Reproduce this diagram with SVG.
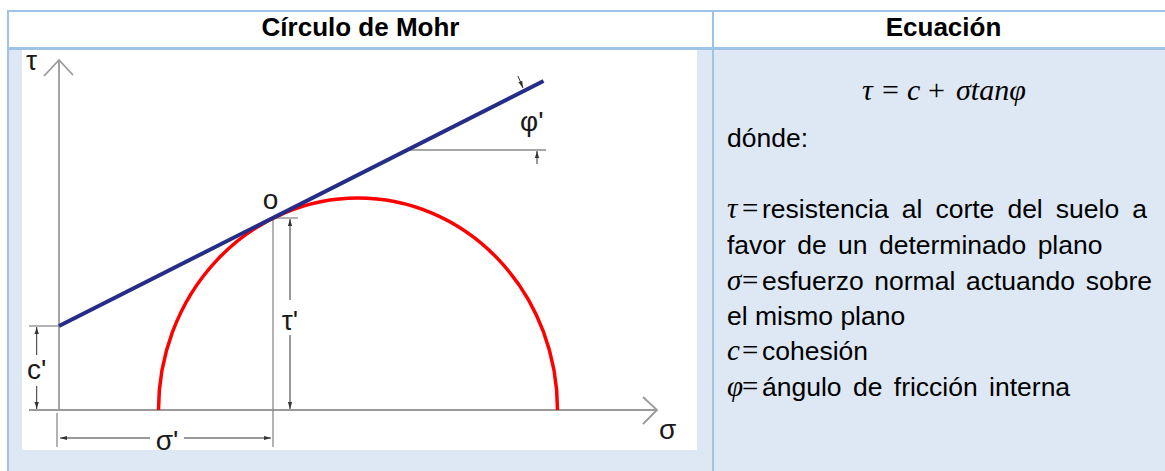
<svg xmlns="http://www.w3.org/2000/svg" width="1165" height="471" viewBox="0 0 1165 471">
<defs>
<style>
.hdr{font-family:"Liberation Sans",Arial,sans-serif;font-weight:bold;font-size:26px;fill:#000;text-anchor:middle}
.body{font-family:"Liberation Sans",Arial,sans-serif;font-size:26.5px;fill:#000}
.math{font-family:"Liberation Serif","Times New Roman",serif;font-size:29px;fill:#000}
.eq{font-size:30px}
.mi{font-style:italic}
.lbl{font-family:"Liberation Sans",Arial,sans-serif;font-size:28px;fill:#1a1a1a}
.border{stroke:#9dc3e6;fill:none}
.axis{stroke:#9a9a9a;stroke-width:1.8;fill:none}
.ext{stroke:#8a8a8a;stroke-width:1.3;fill:none}
.dim{stroke:#333;stroke-width:1;fill:none;marker-end:url(#ah)}
</style>
<marker id="ah" viewBox="0 0 10 10" refX="10" refY="5" markerWidth="7" markerHeight="7" markerUnits="userSpaceOnUse" orient="auto"><path d="M0,2 L10,5 L0,8 z" fill="#333"/></marker>
<clipPath id="imgclip"><rect x="22" y="50" width="675" height="400"/></clipPath>
</defs>

<g id="table">
<rect x="0" y="0" width="1165" height="471" fill="#ffffff"/>
<rect x="8" y="49" width="1157" height="422" fill="#dee8f4"/>
<line class="border" x1="8" y1="11" x2="1165" y2="11" stroke-width="2"/>
<line class="border" x1="8" y1="48.5" x2="1165" y2="48.5" stroke-width="3"/>
<line class="border" x1="8" y1="10" x2="8" y2="471" stroke-width="2"/>
<line class="border" x1="713" y1="10" x2="713" y2="471" stroke-width="2"/>
</g>

<g id="headers">
<text class="hdr" x="360.5" y="36">Círculo de Mohr</text>
<text class="hdr" x="943.5" y="36">Ecuación</text>
</g>

<g id="mohr-diagram">
<rect x="22" y="50" width="675" height="400" fill="#ffffff"/>
<g clip-path="url(#imgclip)">
<g id="axes">
<line class="axis" x1="59" y1="410" x2="59" y2="60"/>
<polyline class="axis" points="44,76 59,60 73,75"/>
<line class="axis" x1="29" y1="410" x2="657" y2="410"/>
<polyline class="axis" points="643,397 657,410 643,424"/>
</g>
<g id="extension-lines">
<line class="ext" x1="29" y1="326" x2="59" y2="326"/>
<line class="ext" x1="57" y1="413" x2="57" y2="447"/>
<line class="ext" x1="273" y1="218" x2="273" y2="447"/>
<line class="ext" x1="273" y1="218" x2="298" y2="218"/>
<line class="ext" x1="408" y1="150" x2="546" y2="150" stroke-width="1.1"/>
</g>
<path id="mohr-circle" d="M158.5,410 A199.5,212 0 0 1 557.5,410" fill="none" stroke="#ff0000" stroke-width="3.5"/>
<line id="envelope" x1="59" y1="326" x2="543.5" y2="81" stroke="#262d87" stroke-width="4"/>
<g id="dimensions">
<path class="dim" d="M36.7,355 L36.7,327"/>
<path class="dim" d="M36.7,386 L36.7,409"/>
<path class="dim" d="M290,300 L290,219"/>
<path class="dim" d="M290,335 L290,409"/>
<path class="dim" d="M150,438 L60,438"/>
<path class="dim" d="M184,438 L271,438"/>
<path class="dim" d="M537,164 L537,151"/>
<path class="dim" d="M518,76 L523,88"/>
</g>
<g id="labels">
<text class="lbl" x="26" y="70" font-size="27">τ</text>
<text class="lbl" x="270.5" y="208.5" text-anchor="middle" font-size="26">o</text>
<text class="lbl" x="27" y="379">c'</text>
<text class="lbl" x="290" y="330" text-anchor="middle" font-size="30">τ'</text>
<text class="lbl" x="167" y="450" text-anchor="middle" font-size="30">σ'</text>
<text class="lbl" x="659" y="439">σ</text>
<text class="lbl" x="520" y="131" font-size="27">φ'</text>
</g>
</g>
</g>

<g id="equation-panel">
<text class="math eq" y="100"><tspan class="mi" x="862">τ</tspan><tspan x="882">=</tspan><tspan class="mi" x="907">c</tspan><tspan x="928">+</tspan><tspan class="mi" x="956">σtanφ</tspan></text>
<text class="body" x="727" y="147">dónde:</text>

<text class="math mi" x="727" y="218">τ</text><text class="math" x="742" y="218">=</text>
<text class="body" x="762" y="218" word-spacing="5.7">resistencia al corte del suelo a</text>
<text class="body" x="727" y="254" word-spacing="4">favor de un determinado plano</text>

<text class="math mi" x="727" y="289.5">σ</text><text class="math" x="742" y="289.5">=</text>
<text class="body" x="762" y="289.5" word-spacing="3.3">esfuerzo normal actuando sobre</text>
<text class="body" x="727" y="325">el mismo plano</text>

<text class="math mi" x="727" y="360">c</text><text class="math" x="742" y="360">=</text>
<text class="body" x="762" y="360">cohesión</text>

<text class="math mi" x="727" y="396">φ</text><text class="math" x="742" y="396">=</text>
<text class="body" x="762" y="396" word-spacing="4">ángulo de fricción interna</text>
</g>
</svg>
